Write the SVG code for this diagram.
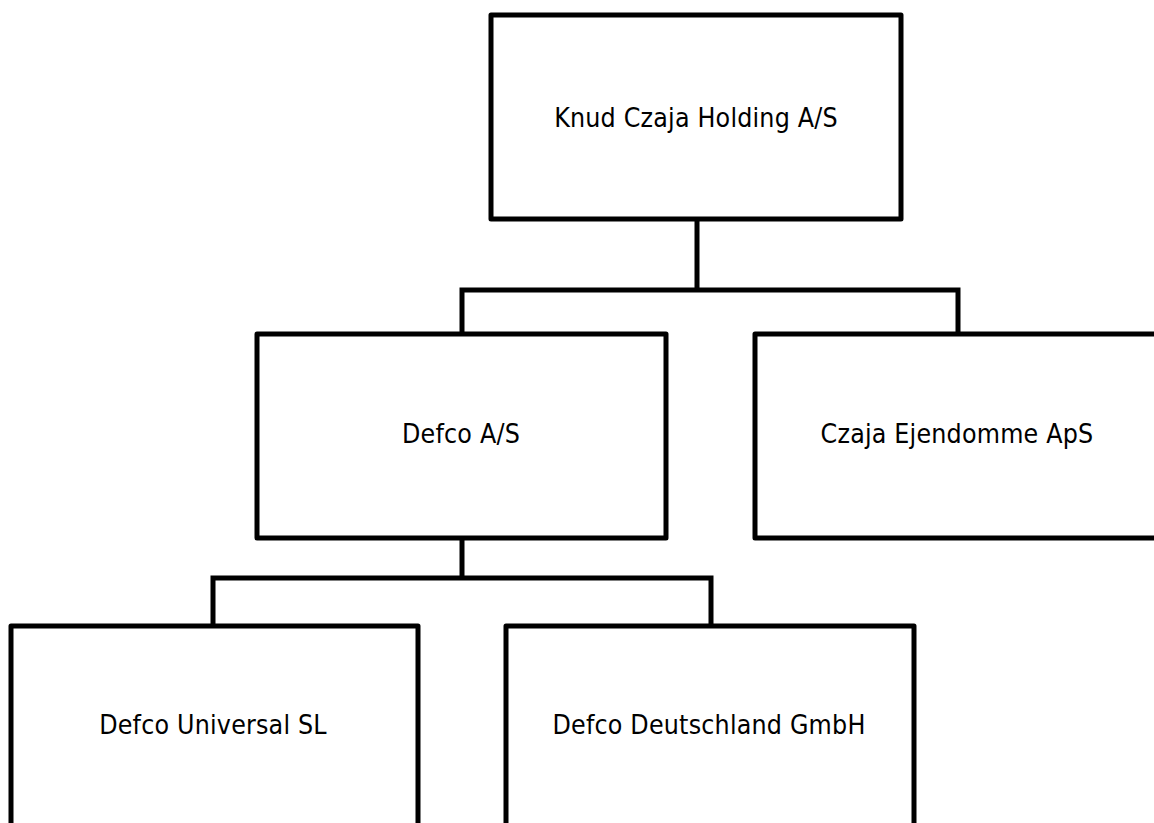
<svg xmlns="http://www.w3.org/2000/svg" width="1154" height="823" viewBox="0 0 1154 823">
<style>
.box{fill:#fff;stroke:#000;stroke-width:5;stroke-linejoin:round}
.con{fill:none;stroke:#000;stroke-width:5;stroke-linejoin:miter}
.lbl{font-family:"DejaVu Sans Condensed","DejaVu Sans",sans-serif;font-size:26.5px;letter-spacing:0.2px;fill:#000;text-anchor:middle}
</style>
<rect width="1154" height="823" fill="#fff"/>
<g id="connectors">
<path class="con" d="M697 219V290M462 332V290H958V332"/>
<path class="con" d="M462 538V578M213 625V578H711V625"/>
</g>
<g id="n-knud"><rect class="box" x="491" y="15" width="410" height="204"/><text class="lbl" x="696" y="127">Knud Czaja Holding A/S</text></g>
<g id="n-defco"><rect class="box" x="257" y="334" width="409" height="204"/><text class="lbl" x="461" y="443">Defco A/S</text></g>
<g id="n-czaja"><rect class="box" x="755" y="334" width="410" height="204"/><text class="lbl" x="957" y="443">Czaja Ejendomme ApS</text></g>
<g id="n-universal"><rect class="box" x="11" y="626" width="407" height="204"/><text class="lbl" x="213" y="734">Defco Universal SL</text></g>
<g id="n-deutschland"><rect class="box" x="506" y="626" width="408" height="204"/><text class="lbl" x="709" y="734">Defco Deutschland GmbH</text></g>
</svg>
